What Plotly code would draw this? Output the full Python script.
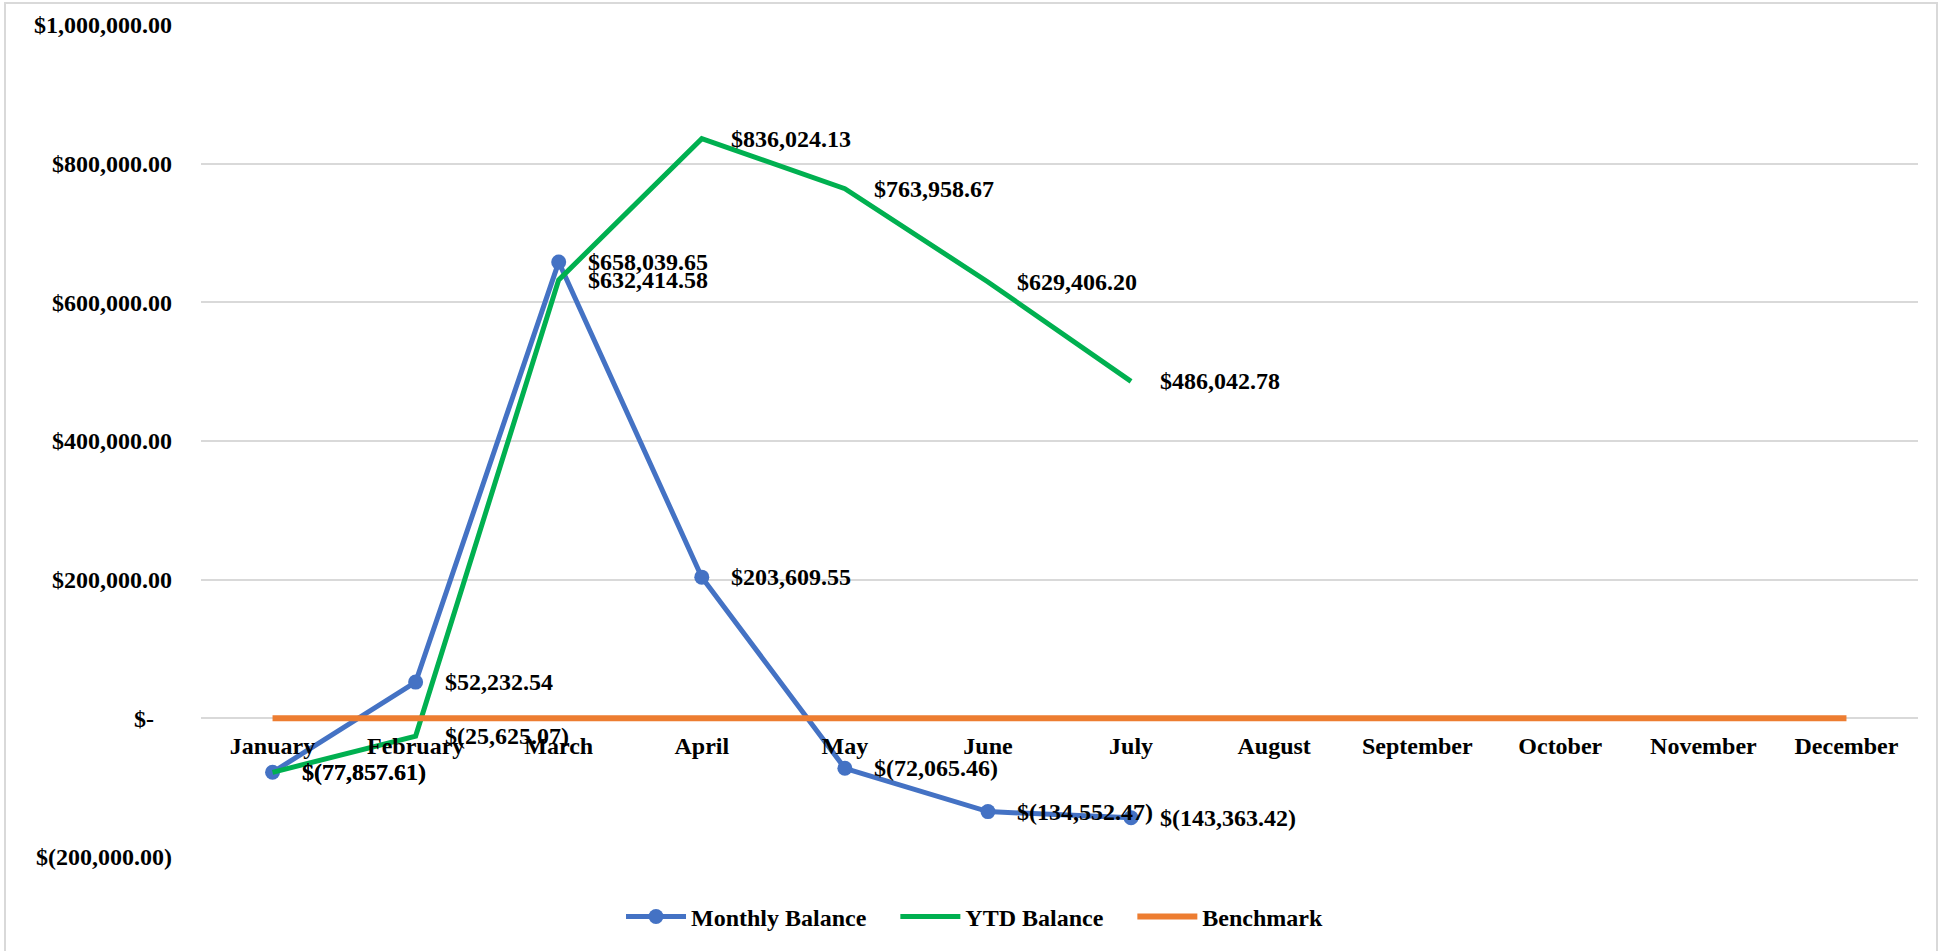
import plotly.graph_objects as go

months = ["January", "February", "March", "April", "May", "June", "July",
          "August", "September", "October", "November", "December"]
monthly_balance = [-77857.61, 52232.54, 658039.65, 203609.55, -72065.46, -134552.47, -143363.42]
ytd_balance = [-77857.61, -25625.07, 632414.58, 836024.13, 763958.67, 629406.20, 486042.78]
benchmark = [0] * 12
series_names = ["Monthly Balance", "YTD Balance", "Benchmark"]

y_tickvals = [-200000, 0, 200000, 400000, 600000, 800000, 1000000]
y_ticktext = ["$(200,000.00)", "$-\u00a0\u00a0\u00a0", "$200,000.00", "$400,000.00",
              "$600,000.00", "$800,000.00", "$1,000,000.00"]
y_range = [-200000, 1000000]


def fmt(v):
    s = "{:,.2f}".format(abs(v))
    return "$(" + s + ")" if v < 0 else "$" + s


FAM = "Liberation Serif, Times New Roman, serif"
FONT = dict(family=FAM, size=24, color="black", weight="bold")
BLUE = "#4472C4"
GREEN = "#00B050"
ORANGE = "#ED7D31"
PAD = "\u00a0" * 4

fig = go.Figure()
fig.add_trace(go.Scatter(
    x=months[:len(monthly_balance)], y=monthly_balance, name=series_names[0] + PAD,
    mode="lines+markers", line=dict(color=BLUE, width=5),
    marker=dict(size=15, color=BLUE)))
fig.add_trace(go.Scatter(
    x=months[:len(ytd_balance)], y=ytd_balance, name=series_names[1] + PAD,
    mode="lines", line=dict(color=GREEN, width=5)))
fig.add_trace(go.Scatter(
    x=months, y=benchmark, name=series_names[2],
    mode="lines", line=dict(color=ORANGE, width=6)))

annotations = []
for series in (monthly_balance, ytd_balance):
    for m, v in zip(months, series):
        annotations.append(dict(
            x=m, y=v, xref="x", yref="y", text=fmt(v), showarrow=False,
            xanchor="left", yanchor="middle", xshift=27, font=FONT))

zero_frac = (0 - y_range[0]) / (y_range[1] - y_range[0])

fig.update_layout(
    width=1938, height=951,
    margin=dict(l=201, r=20, t=25, b=94, autoexpand=False),
    paper_bgcolor="white", plot_bgcolor="white",
    font=FONT,
    showlegend=True,
    legend=dict(orientation="h", x=0.4505, xanchor="center", y=-0.072, yanchor="middle",
                font=FONT, itemwidth=60, tracegroupgap=0),
    annotations=annotations,
    xaxis=dict(
        type="category", categoryorder="array", categoryarray=months,
        range=[-0.5, 11.5], showgrid=False, zeroline=False, showline=False,
        ticks="", anchor="free", position=zero_frac, ticklabelstandoff=11,
        tickfont=FONT, automargin=False),
    yaxis=dict(
        range=y_range, tickvals=y_tickvals, ticktext=y_ticktext,
        showgrid=True, gridcolor="#d9d9d9", gridwidth=2,
        zeroline=False, showline=False, ticks="", ticklabelstandoff=28,
        tickfont=FONT, automargin=False),
    shapes=[dict(type="rect", xref="paper", yref="paper",
                 x0=-196 / 1717, x1=1736 / 1717, y0=-0.2, y1=1 + 22 / 832,
                 line=dict(color="#d9d9d9", width=2), layer="below")],
)

fig.write_html("out.html", config={"displayModeBar": False},
               post_script="document.body.style.margin='0';document.body.style.overflow='hidden';")
